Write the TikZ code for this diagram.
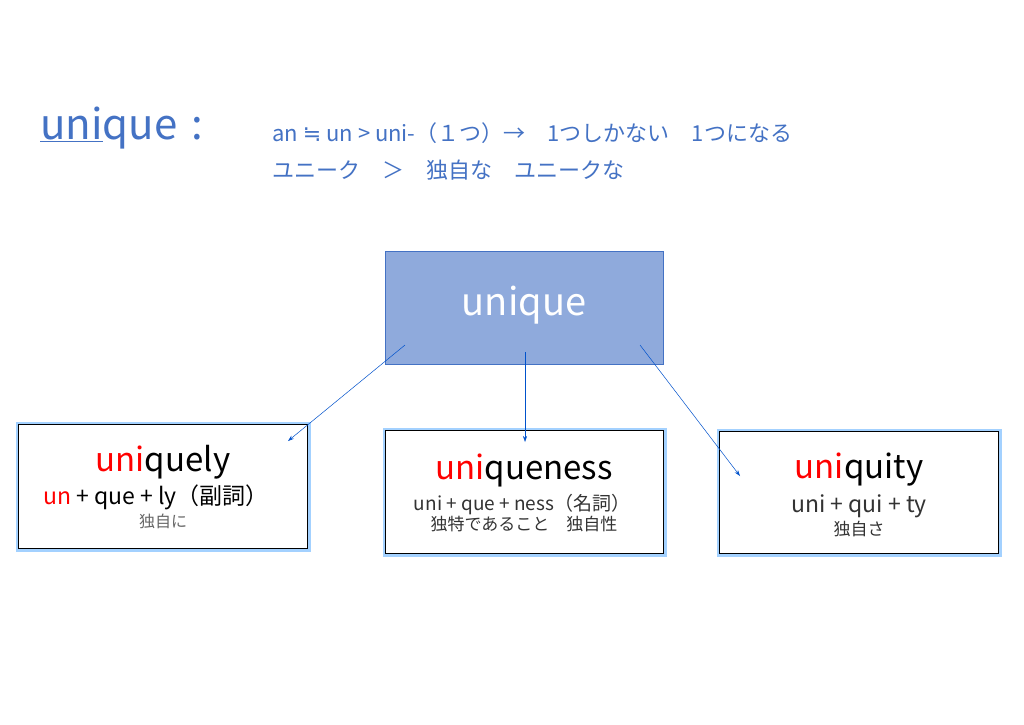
\documentclass[tikz,border=0pt]{standalone}
\usepackage{fontspec}
\usetikzlibrary{arrows.meta}
\setmainfont{Noto Sans CJK JP}
\newfontfamily\dvs{DejaVu Sans}
\begin{document}
\begin{tikzpicture}[x=1pt,y=-1pt,
  wbox/.style={draw=black,line width=1pt,fill=white,minimum width=289pt,minimum height=124pt,anchor=north west,
    preaction={draw=blue!50!cyan!45,line width=6pt,opacity=0.8}},
  conn/.style={draw=blue!60!cyan!80!black,line width=0.5pt,-{Stealth[length=6pt,width=4pt]}}]
\definecolor{tblue}{HTML}{4472C4}
\definecolor{rd}{HTML}{FF0000}
\useasboundingbox (0,0) rectangle (1024,724);
\fill[white] (0,0) rectangle (1024,724);
\node[anchor=west,text=tblue,font=\fontsize{42}{44}\selectfont,inner sep=0] (t) at (40,128) {\underline{uni}que\,\,:};
\node[anchor=west,text=tblue,font=\fontsize{22}{24}\selectfont,inner sep=0] (l1) at (272,133) {an {\dvs≒} un > uni-（１つ）→　1つしかない　1つになる};
\node[anchor=west,text=tblue,font=\fontsize{22}{24}\selectfont,inner sep=0] (l2) at (272,170) {ユニーク　＞　独自な　ユニークな};
\node[draw=tblue,fill=tblue!60!white,minimum width=278pt,minimum height=113pt,anchor=north west] (u) at (385,251) {};
\node[text=white,font=\fontsize{38}{40}\selectfont] (ut) at (524,305) {unique};
\node[wbox,minimum width=289pt] (b1) at (18,424) {};
\node[wbox,minimum width=278pt,minimum height=123pt] (b2) at (385,430) {};
\node[wbox,minimum width=279pt,minimum height=122pt] (b3) at (719,431) {};
\node[font=\fontsize{33}{35}\selectfont] (b1t) at (163,462) {\textcolor{rd}{uni}quely};
\node[font=\fontsize{23}{25}\selectfont] (b1s) at (156,497) {\textcolor{rd}{un}\ +\ que\ +\ ly（副詞）};
\node[font=\fontsize{16}{18}\selectfont,text=black!60] (b1j) at (163,521) {独自に};
\node[font=\fontsize{33}{35}\selectfont] (b2t) at (524,470) {\textcolor{rd}{uni}queness};
\node[font=\fontsize{19}{21}\selectfont,text=black!80] (b2s) at (522,505) {uni\ +\ que\ +\ ness（名詞）};
\node[font=\fontsize{17}{19}\selectfont,text=black!80] (b2j) at (524,524) {独特であること　独自性};
\node[font=\fontsize{33}{35}\selectfont] (b3t) at (859,470) {\textcolor{rd}{uni}quity};
\node[font=\fontsize{23}{25}\selectfont,text=black!80] (b3s) at (859,506) {uni\ +\ qui\ +\ ty};
\node[font=\fontsize{17}{19}\selectfont,text=black!80] (b3j) at (859,529) {独自さ};
\coordinate (s1) at (405,345); \coordinate (e1) at (288,441);
\coordinate (s2) at (525,352); \coordinate (e2) at (525,442);
\coordinate (s3) at (640,345); \coordinate (e3) at (740,476);
\draw[conn] (s1) -- (e1);
\draw[conn] (s2) -- (e2);
\draw[conn] (s3) -- (e3);
\end{tikzpicture}
\end{document}
